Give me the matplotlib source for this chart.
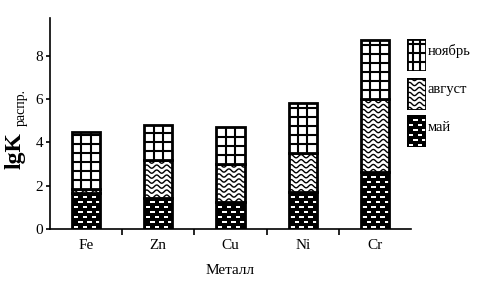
import matplotlib.pyplot as plt
from matplotlib.patches import Rectangle
import numpy as np

metals = ["Fe", "Zn", "Cu", "Ni", "Cr"]
may = [1.65, 1.45, 1.27, 1.7, 2.63]
august = [0.2, 1.75, 1.73, 1.8, 3.37]
november = [2.65, 1.6, 1.72, 2.3, 2.72]
labels = ["ноябрь", "август", "май"]

plt.rcParams['font.family'] = ['Liberation Serif', 'DejaVu Serif']

W, H = 487, 289


def fill_grid(ax, x0, y0, w, h, sx, sy):
    ax.add_patch(Rectangle((x0, y0), w, h, facecolor='white', edgecolor='none'))
    for k in (1, 2):
        ax.plot([x0 + w * k / 3] * 2, [y0, y0 + h], color='black', lw=1.5,
                solid_capstyle='butt')
    yy = y0 + 9 / sy
    while yy < y0 + h - 2 / sy:
        ax.plot([x0, x0 + w], [yy, yy], color='black', lw=1.5, solid_capstyle='butt')
        yy += 9 / sy


def fill_wave(ax, x0, y0, w, h, sx, sy):
    clip = Rectangle((x0, y0), w, h, facecolor='white', edgecolor='none')
    ax.add_patch(clip)
    xs = np.linspace(x0, x0 + w, 80)
    yy = y0 + 1 / sy
    while yy < y0 + h + 2 / sy:
        ys = yy + (1.6 / sy) * np.sin(2 * np.pi * (xs - x0) * sx / 10)
        ln, = ax.plot(xs, ys, color='black', lw=1.0)
        ln.set_clip_path(clip)
        yy += 5 / sy


def fill_check(ax, x0, y0, w, h, sx, sy):
    clip = Rectangle((x0, y0), w, h, facecolor='black', edgecolor='none')
    ax.add_patch(clip)
    row = 0
    yy = y0 + 1 / sy
    while yy < y0 + h:
        off = 0 if row % 2 == 0 else 4.5 / sx
        xx = x0 + 1.5 / sx + off
        while xx < x0 + w:
            r = Rectangle((xx, yy), 4.5 / sx, 2.5 / sy, facecolor='white', edgecolor='none')
            ax.add_patch(r)
            r.set_clip_path(clip)
            xx += 9 / sx
        yy += 5 / sy
        row += 1


fig = plt.figure(figsize=(W / 100, H / 100), dpi=100)
ax = fig.add_axes([50 / W, 60 / H, 361 / W, 211 / H])

x = np.arange(len(metals)) + 0.5
bw = 0.39
ymax = 9.75
sx = 361 / 5
sy = 211 / ymax

bottoms = np.zeros(len(metals))
for vals, fn in ((may, fill_check), (august, fill_wave), (november, fill_grid)):
    for i in range(len(metals)):
        fn(ax, x[i] - bw / 2, bottoms[i], bw, vals[i], sx, sy)
    ax.bar(x, vals, bw, bottom=bottoms, fill=False, edgecolor='black', linewidth=2)
    bottoms = bottoms + np.array(vals)

ax.set_xlim(0, 5)
ax.set_ylim(0, ymax)
ax.spines['top'].set_visible(False)
ax.spines['right'].set_visible(False)
ax.spines['left'].set_linewidth(1.2)
ax.spines['bottom'].set_linewidth(1.2)
ax.set_xticks([1, 2, 3, 4])
ax.set_xticklabels([])
ax.set_xticks(x, minor=True)
ax.set_xticklabels(metals, minor=True, fontsize=11)
ax.tick_params(axis='x', which='minor', length=0, pad=7)
ax.tick_params(axis='x', which='major', length=4, width=1.2, direction='out')
ax.set_yticks([0, 2, 4, 6, 8])
ax.tick_params(axis='y', length=3, width=1.2, labelsize=11, pad=2)
ax.set_xlabel("Металл", fontsize=11, labelpad=9)

fig.text(15 / W, 1 - 151 / H, "lgK", rotation=90, fontsize=17, fontweight='bold',
         ha='center', va='center')
fig.text(21 / W, 1 - 107 / H, "распр.", rotation=90, fontsize=10,
         ha='center', va='center')

# legend boxes drawn by hand
boxes = [(39, fill_grid), (78, fill_wave), (115, fill_check)]
for (top, fn), lab in zip(boxes, labels):
    lax = fig.add_axes([407 / W, 1 - (top + 32) / H, 19 / W, 32 / H])
    lax.set_xlim(0, 19)
    lax.set_ylim(0, 32)
    lax.axis('off')
    fn(lax, 0, 0, 19, 32, 1, 1)
    lax.add_patch(Rectangle((0, 0), 19, 32, fill=False, edgecolor='black', lw=2))
    fig.text(428 / W, 1 - (top + 12) / H, lab, fontsize=10.5, ha='left', va='center')

fig.savefig("out.png", dpi=100)
